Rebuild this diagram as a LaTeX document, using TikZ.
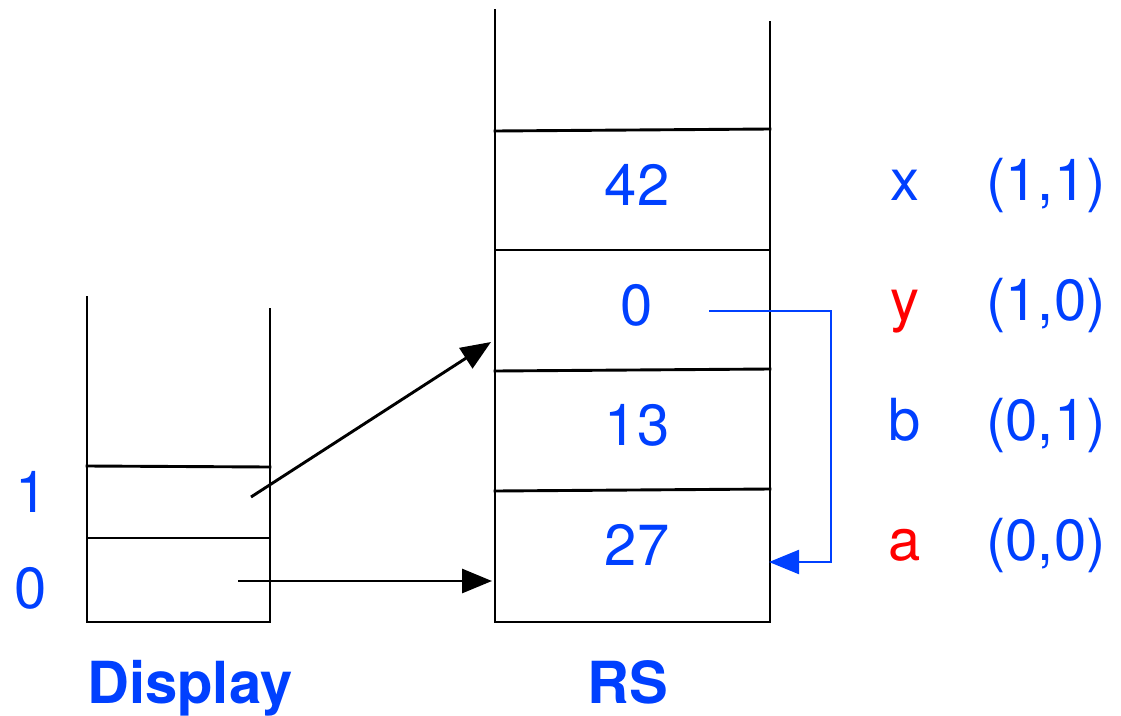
\documentclass[tikz,border=0pt]{standalone}
\usepackage{fontspec}
\setmainfont{TeX Gyre Heros}
\usetikzlibrary{arrows.meta}
\definecolor{lblue}{RGB}{0,64,255}
\definecolor{lred}{RGB}{255,0,0}
\tikzset{
  wall/.style={line width=2.9pt, line cap=rect},
  lbl/.style={anchor=base, inner sep=0pt, font=\fontsize{58}{70}\selectfont, text=lblue},
  redlbl/.style={lbl, text=lred},
  title/.style={lbl, font=\fontsize{58}{70}\selectfont\bfseries},
  ptr/.style={line width=2.9pt, -{Triangle[length=30pt,width=24pt]}},
  link/.style={lblue, line width=2.2pt, -{Triangle[length=30pt,width=24pt]}}
}
\begin{document}
\begin{tikzpicture}[x=1pt, y=-1pt]
\useasboundingbox (0,0) rectangle (1121,715);

% Display stack
\draw[wall] (87,297) -- (87,622) -- (270,622) -- (270,309);
\draw[wall] (87,466) -- (270,467);
\draw[wall] (87,538) -- (270,538);

% RS stack
\draw[wall] (495,10) -- (495,622) -- (770,622) -- (770,22);
\draw[wall] (495,131) -- (770,129);
\draw[wall] (495,250) -- (770,250);
\draw[wall] (495,371) -- (770,369);
\draw[wall] (495,491) -- (770,489);

% Display indices
\node[lbl] (d1) at (32,512) {1};
\node[lbl] (d0) at (31,608) {0};

% RS contents
\node[lbl] (v42) at (637,205) {42};
\node[lbl] (v0)  at (637,325) {0};
\node[lbl] (v13) at (637,445) {13};
\node[lbl] (v27) at (637,565) {27};

% variable names and their (level,offset) addresses
\node[lbl]    (nx) at (905,200) {x};
\node[redlbl] (ny) at (905,320) {y};
\node[lbl]    (nb) at (905,440) {b};
\node[redlbl] (na) at (905,560) {a};
\node[lbl] (ax) at (1046,200) {(1,1)};
\node[lbl] (ay) at (1046,320) {(1,0)};
\node[lbl] (ab) at (1046,440) {(0,1)};
\node[lbl] (aa) at (1046,560) {(0,0)};

% titles
\node[title] (tdisp) at (190,703) {Display};
\node[title] (trs) at (628,703) {RS};

% pointers from the display into the stack
\coordinate (p1) at (251,497);
\coordinate (q1) at (491,342);
\coordinate (p0) at (238,581);
\coordinate (q0) at (492,581);
\draw[ptr] (p1) -- (q1);
\draw[ptr] (p0) -- (q0);

% static link from the frame slot down to the base frame
\coordinate (s0) at (709,311);
\coordinate (s1) at (831,311);
\coordinate (s2) at (831,562);
\coordinate (s3) at (769,562);
\draw[link] (s0) -- (s1) -- (s2) -- (s3);
\end{tikzpicture}
\end{document}
